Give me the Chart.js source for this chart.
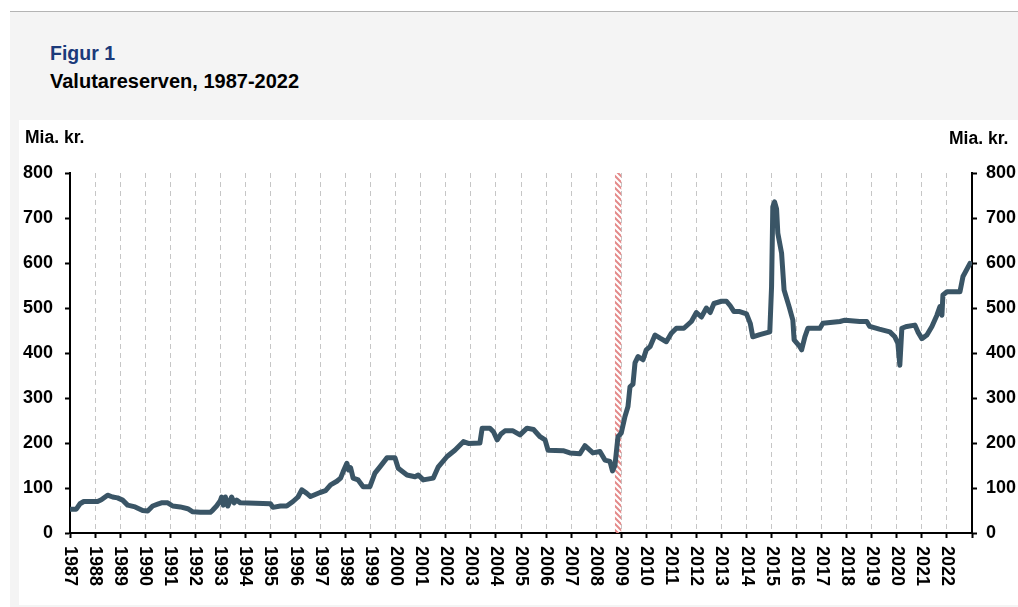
<!DOCTYPE html>
<html>
<head>
<meta charset="utf-8">
<script src="https://cdn.jsdelivr.net/npm/chart.js@4/dist/chart.umd.min.js"></script>
<style>
  html, body { margin: 0; padding: 0; background: #fff; }
  body { width: 1018px; height: 607px; position: relative; overflow: hidden; font-family: "Liberation Sans", Arial, sans-serif; }
  #panel { position: absolute; left: 10px; top: 11px; width: 1008px; height: 596px; background: #f4f4f4; border-top: 1px solid #b4b4b4; }
  #fig { position: absolute; left: 50px; top: 44px; font-size: 19.5px; line-height: 19px; font-weight: bold; color: #1b3a7a; }
  #title { position: absolute; left: 50px; top: 72px; font-size: 20px; line-height: 19px; font-weight: bold; color: #000; }
  #box { position: absolute; left: 19px; top: 120px; width: 999px; height: 485px; background: #fff; }
</style>
</head>
<body>
<div id="panel"></div>
<div id="fig">Figur 1</div>
<div id="title">Valutareserven, 1987-2022</div>
<div id="box"><canvas id="chart" width="999" height="485"></canvas></div>

<script>
// reserve in bn kr (decimal years)
const years = [
  1987.0, 1987.25, 1987.4, 1987.55, 1988.1, 1988.25, 1988.5, 1988.7, 1988.9, 1989.1,
  1989.3, 1989.6, 1989.9, 1990.1, 1990.3, 1990.5, 1990.65, 1990.9, 1991.1, 1991.4,
  1991.7, 1991.9, 1992.2, 1992.6, 1992.7, 1992.85, 1993.0, 1993.05, 1993.12, 1993.2,
  1993.3, 1993.45, 1993.55, 1993.65, 1993.8, 1994.4, 1995.0, 1995.1, 1995.4, 1995.65,
  1995.9, 1996.1, 1996.25, 1996.45, 1996.6, 1996.98, 1997.2, 1997.4, 1997.65, 1997.8,
  1997.9, 1998.05, 1998.12, 1998.2, 1998.3, 1998.5, 1998.7, 1998.97, 1999.17, 1999.37,
  1999.65, 1999.97, 2000.1, 2000.45, 2000.77, 2000.9, 2001.1, 2001.5, 2001.7, 2002.05,
  2002.36, 2002.7, 2002.9, 2003.36, 2003.45, 2003.76, 2003.9, 2004.05, 2004.2, 2004.36,
  2004.68, 2004.96, 2005.24, 2005.5, 2005.76, 2005.96, 2006.08, 2006.68, 2006.95, 2007.35,
  2007.55, 2007.87, 2008.15, 2008.35, 2008.55, 2008.65, 2008.75, 2008.87, 2009.0, 2009.15,
  2009.27, 2009.35, 2009.47, 2009.55, 2009.67, 2009.87, 2010.0, 2010.15, 2010.35, 2010.55,
  2010.8, 2011.0, 2011.2, 2011.5, 2011.8, 2012.0, 2012.2, 2012.4, 2012.55, 2012.7,
  2013.0, 2013.2, 2013.35, 2013.5, 2013.73, 2014.0, 2014.15, 2014.25, 2014.53, 2014.93,
  2015.0, 2015.05, 2015.12, 2015.2, 2015.25, 2015.4, 2015.5, 2015.7, 2015.85, 2015.9,
  2016.13, 2016.2, 2016.33, 2016.45, 2016.93, 2017.05, 2017.73, 2017.93, 2018.52, 2018.8,
  2018.92, 2019.3, 2019.72, 2019.92, 2020.04, 2020.12, 2020.2, 2020.4, 2020.72, 2020.84,
  2021.0, 2021.2, 2021.4, 2021.6, 2021.72, 2021.8, 2021.84, 2022.0, 2022.52, 2022.64,
  2022.92
];
const reserve = [
  53, 53, 65, 70, 70, 74, 84, 80, 78, 73,
  62, 58, 50, 49, 60, 64, 67, 67, 60, 58,
  54, 47, 46, 46, 51, 60, 72, 80, 62, 80,
  60, 80, 67, 73, 67, 66, 65, 57, 60, 60,
  70, 80, 96, 88, 81, 90, 94, 107, 115, 122,
  136, 155, 140, 145, 122, 118, 103, 103, 133, 147,
  167, 167, 144, 129, 125, 129, 118, 122, 147, 170,
  184, 203, 199, 200, 233, 233, 225, 207, 220, 227,
  227, 218, 233, 230, 214, 207, 184, 183, 178, 176,
  194, 178, 181, 162, 159, 138, 150, 214, 222, 259,
  281, 325, 331, 378, 392, 385, 407, 414, 440, 433,
  425, 444, 455, 455, 470, 490, 480, 500, 490, 510,
  515, 515, 505, 492, 492, 487, 466, 436, 441, 447,
  547, 725, 736, 720, 666, 622, 540, 503, 473, 429,
  414, 407, 436, 455, 455, 466, 470, 473, 470, 470,
  459, 453, 447, 436, 422, 373, 455, 459, 462, 447,
  432, 440, 459, 484, 503, 484, 529, 536, 536, 570,
  599
];
const yearLabels = [
  "1987", "1988", "1989", "1990", "1991", "1992", "1993", "1994", "1995", "1996",
  "1997", "1998", "1999", "2000", "2001", "2002", "2003", "2004", "2005", "2006",
  "2007", "2008", "2009", "2010", "2011", "2012", "2013", "2014", "2015", "2016",
  "2017", "2018", "2019", "2020", "2021", "2022"
];
const yTicks = [0, 100, 200, 300, 400, 500, 600, 700, 800];
const crisisBand = [2008.75, 2009.0];
const unitLabel = "Mia. kr.";

const FONT = '"Liberation Sans", Arial, sans-serif';

function hatch() {
  const c = document.createElement("canvas");
  c.width = 6; c.height = 6;
  const g = c.getContext("2d");
  g.strokeStyle = "#e48a8a";
  g.lineWidth = 2;
  g.beginPath();
  g.moveTo(-1, -1); g.lineTo(7, 7);
  g.moveTo(-7, -1); g.lineTo(1, 7);
  g.moveTo(5, -1); g.lineTo(13, 7);
  g.stroke();
  return c;
}

// hatched band around the 2008 crisis
const bandPlugin = {
  id: "band",
  beforeDatasetsDraw(chart) {
    const { ctx, chartArea, scales } = chart;
    const x1 = scales.x.getPixelForValue(crisisBand[0]);
    const x2 = scales.x.getPixelForValue(crisisBand[1]);
    ctx.save();
    ctx.fillStyle = ctx.createPattern(hatch(), "repeat");
    ctx.fillRect(x1, chartArea.top, x2 - x1, chartArea.bottom - chartArea.top);
    ctx.restore();
  }
};

// unit labels and the rotated year labels
const textPlugin = {
  id: "texts",
  afterDraw(chart) {
    const { ctx, chartArea, scales } = chart;
    ctx.save();
    ctx.fillStyle = "#000";
    ctx.font = "bold 17.5px " + FONT;
    ctx.textBaseline = "middle";
    ctx.textAlign = "left";
    ctx.fillText(unitLabel, 6, 18);
    ctx.fillText(unitLabel, 930, 19);

    ctx.font = "bold 18px " + FONT;
    yearLabels.forEach(lab => {
      const x = scales.x.getPixelForValue(Number(lab));
      ctx.save();
      ctx.translate(x, chartArea.bottom + 13);
      ctx.rotate(Math.PI / 2);
      ctx.textAlign = "left";
      ctx.textBaseline = "middle";
      ctx.fillText(lab, 0, 0);
      ctx.restore();
    });
    ctx.restore();
  }
};

const yAxis = (pos, width, pad) => ({
  type: "linear",
  position: pos,
  min: 0,
  max: 800,
  afterBuildTicks: s => { s.ticks = yTicks.map(v => ({ value: v })); },
  afterFit: s => { s.width = width; },
  ticks: { color: "#000", padding: pad, font: { family: FONT, size: 18, weight: "bold" } },
  grid: { drawOnChartArea: false, tickLength: 5, tickColor: "#000", tickWidth: 2 },
  border: { color: "#000", width: 2 }
});

new Chart(document.getElementById("chart"), {
  type: "line",
  data: {
    datasets: [{
      data: years.map((y, i) => ({ x: y, y: reserve[i] })),
      borderColor: "#3a5566",
      borderWidth: 5,
      borderJoinStyle: "round",
      borderCapStyle: "round",
      pointRadius: 0,
      tension: 0,
      fill: false,
      yAxisID: "y"
    }]
  },
  options: {
    responsive: false,
    animation: false,
    devicePixelRatio: 1,
    layout: { padding: { top: 53, left: 0, right: 0, bottom: 0 } },
    plugins: { legend: { display: false }, tooltip: { enabled: false } },
    scales: {
      x: {
        type: "linear",
        min: 1987,
        max: 2023,
        afterFit: s => { s.height = 72; },
        ticks: { stepSize: 1, display: false },
        grid: { color: "#c6c6c6", lineWidth: 1, tickLength: 5, tickColor: "#000", tickWidth: 2 },
        border: { color: "#000", width: 2, dash: [5, 4] }
      },
      y: yAxis("left", 51, 12),
      y2: yAxis("right", 46, 9)
    }
  },
  plugins: [bandPlugin, textPlugin]
});
</script>
</body>
</html>
